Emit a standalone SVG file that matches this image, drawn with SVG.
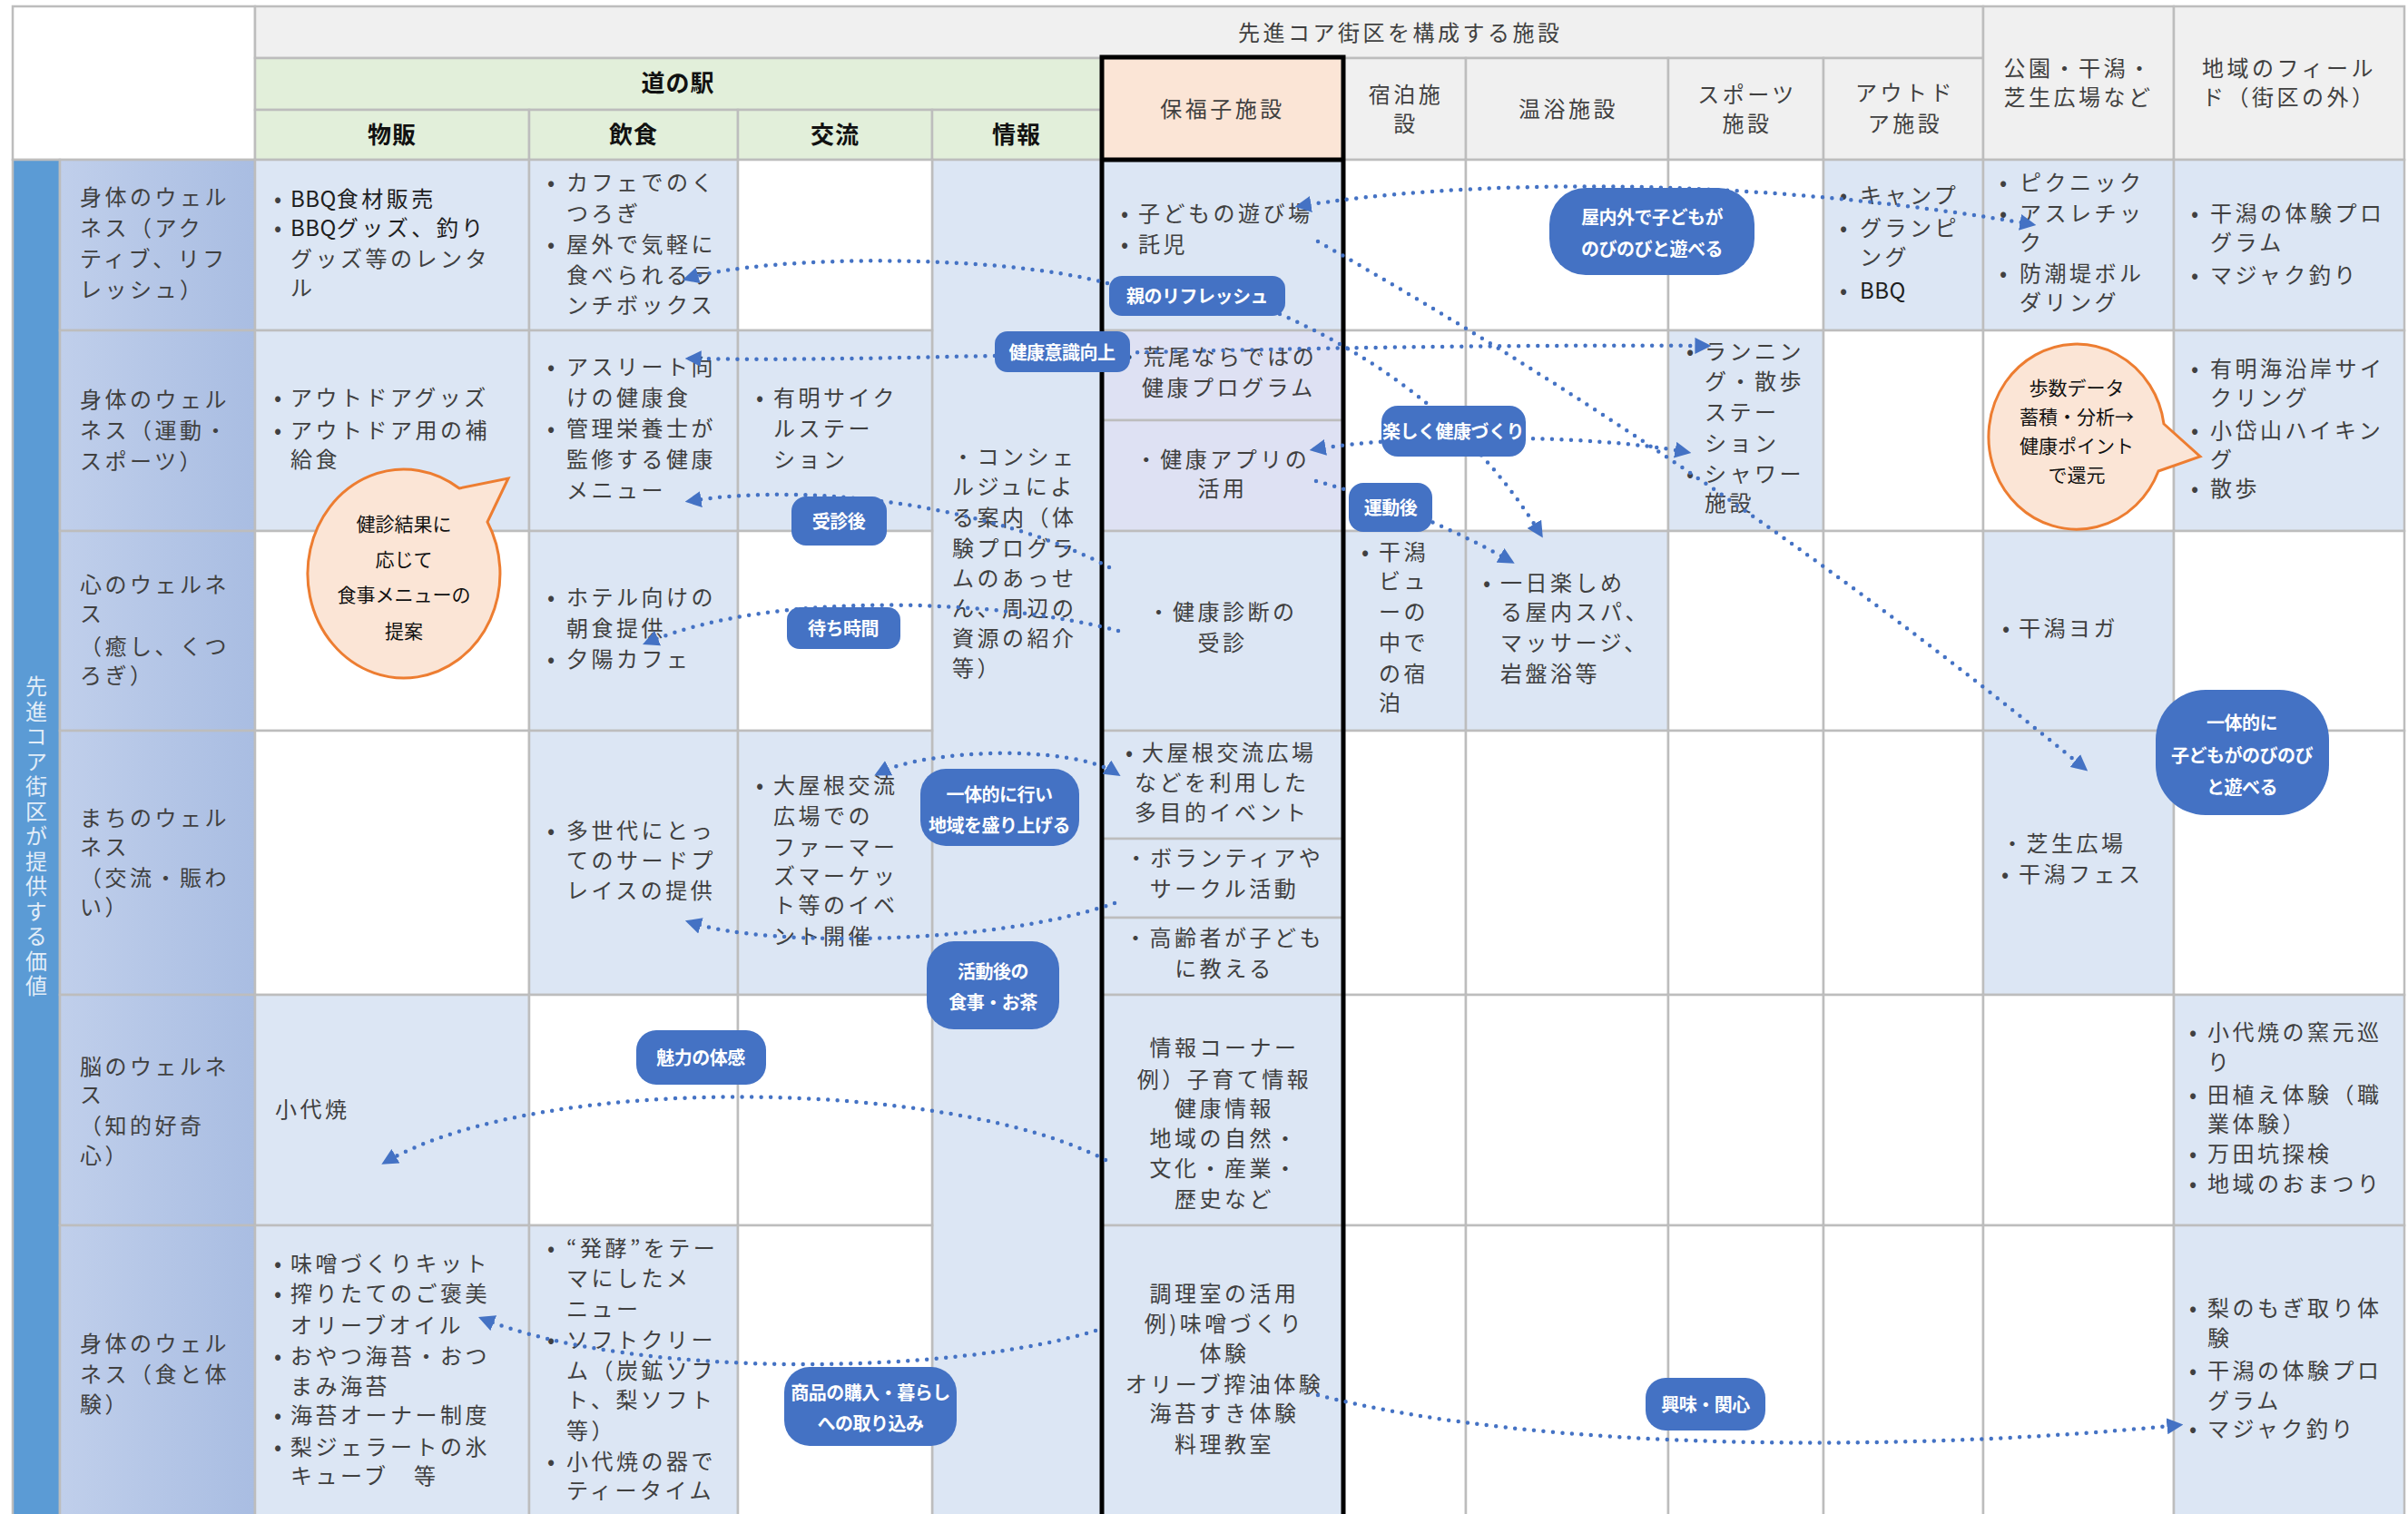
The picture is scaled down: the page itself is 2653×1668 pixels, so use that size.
<svg xmlns="http://www.w3.org/2000/svg" width="2653" height="1668" viewBox="0 0 2653 1668">
<defs>
<linearGradient id="lg" x1="0" y1="0" x2="1" y2="0"><stop offset="0" stop-color="#C0CFEB"/><stop offset="1" stop-color="#A9BDE2"/></linearGradient>
<marker id="ah" viewBox="0 0 10 10" refX="7" refY="5" markerWidth="18" markerHeight="18" markerUnits="userSpaceOnUse" orient="auto-start-reverse"><path d="M0,0 L10,5 L0,10 Z" fill="#4472C4"/></marker>
<style>
.w{fill:#FFFFFF;stroke:#BDBDBD;stroke-width:2.5}
.b{fill:#DCE6F4;stroke:#BDBDBD;stroke-width:2.5}
.b2{fill:#DEE1F3;stroke:#BDBDBD;stroke-width:2.5}
.lab{fill:url(#lg);stroke:#BDBDBD;stroke-width:2.5}
.g{fill:#F0F0F0;stroke:#BDBDBD;stroke-width:2.5}
.gr{fill:#E2EFDA;stroke:#BDBDBD;stroke-width:2.5}
.pk{fill:#FBE5D6;stroke:#BDBDBD;stroke-width:2.5}
text{font-family:"Noto Sans CJK JP","Noto Sans",sans-serif;dominant-baseline:central}
.t{font-size:24px;fill:#404040;letter-spacing:3.5px}
.dk{fill:#1E1E1E}
.nl{letter-spacing:0.5px}
.c{text-anchor:middle}
.bl{font-size:24px;fill:#404040;text-anchor:middle}
.hb{font-size:26px;font-weight:bold;fill:#111;text-anchor:middle;letter-spacing:1px}
.conn path{fill:none;stroke:#4472C4;stroke-width:4.5;stroke-linecap:round;stroke-dasharray:0 10.5}
.lb rect{fill:#4472C4}
.lb text{font-size:20px;font-weight:bold;fill:#FFFFFF;text-anchor:middle;letter-spacing:-0.5px}
.bub path{fill:#FBE5D6;stroke:#ED7D31;stroke-width:3}
.bub text{font-size:21px;fill:#111;text-anchor:middle}
</style>
</defs>
<rect x="0" y="0" width="2653" height="1668" fill="#FFFFFF"/>

<g id="grid">
<rect class="w" x="14" y="7" width="267" height="169"/>
<rect class="g" x="281" y="7" width="1904" height="57"/>
<rect class="gr" x="281" y="64" width="933" height="57"/>
<rect class="gr" x="281" y="121" width="302" height="55"/>
<rect class="gr" x="583" y="121" width="230" height="55"/>
<rect class="gr" x="813" y="121" width="214" height="55"/>
<rect class="gr" x="1027" y="121" width="187" height="55"/>
<rect class="pk" x="1214" y="64" width="266" height="112"/>
<rect class="g" x="1480" y="64" width="135" height="112"/>
<rect class="g" x="1615" y="64" width="223" height="112"/>
<rect class="g" x="1838" y="64" width="171" height="112"/>
<rect class="g" x="2009" y="64" width="176" height="112"/>
<rect class="g" x="2185" y="7" width="210" height="169"/>
<rect class="g" x="2395" y="7" width="254" height="169"/>
<rect x="14" y="176" width="52" height="1500" fill="#5B9BD5" stroke="#BDBDBD" stroke-width="2.5"/>
<rect class="lab" x="66" y="176" width="215" height="188"/>
<rect class="lab" x="66" y="364" width="215" height="221"/>
<rect class="lab" x="66" y="585" width="215" height="220"/>
<rect class="lab" x="66" y="805" width="215" height="291"/>
<rect class="lab" x="66" y="1096" width="215" height="254"/>
<rect class="lab" x="66" y="1350" width="215" height="330"/>
<rect class="b" x="1027" y="176" width="187" height="1504"/>
<!-- row 1 -->
<rect class="b" x="281" y="176" width="302" height="188"/>
<rect class="b" x="583" y="176" width="230" height="188"/>
<rect class="w" x="813" y="176" width="214" height="188"/>
<rect class="b" x="1214" y="176" width="266" height="188"/>
<rect class="w" x="1480" y="176" width="135" height="188"/>
<rect class="w" x="1615" y="176" width="223" height="188"/>
<rect class="w" x="1838" y="176" width="171" height="188"/>
<rect class="b" x="2009" y="176" width="176" height="188"/>
<rect class="b" x="2185" y="176" width="210" height="188"/>
<rect class="b" x="2395" y="176" width="254" height="188"/>
<!-- row 2 -->
<rect class="b" x="281" y="364" width="302" height="221"/>
<rect class="b" x="583" y="364" width="230" height="221"/>
<rect class="b" x="813" y="364" width="214" height="221"/>
<rect class="b2" x="1214" y="364" width="266" height="99"/>
<rect class="b2" x="1214" y="463" width="266" height="122"/>
<rect class="w" x="1480" y="364" width="135" height="221"/>
<rect class="w" x="1615" y="364" width="223" height="221"/>
<rect class="b" x="1838" y="364" width="171" height="221"/>
<rect class="w" x="2009" y="364" width="176" height="221"/>
<rect class="w" x="2185" y="364" width="210" height="221"/>
<rect class="b" x="2395" y="364" width="254" height="221"/>
<!-- row 3 -->
<rect class="w" x="281" y="585" width="302" height="220"/>
<rect class="b" x="583" y="585" width="230" height="220"/>
<rect class="w" x="813" y="585" width="214" height="220"/>
<rect class="b" x="1214" y="585" width="266" height="220"/>
<rect class="b" x="1480" y="585" width="135" height="220"/>
<rect class="b" x="1615" y="585" width="223" height="220"/>
<rect class="w" x="1838" y="585" width="171" height="220"/>
<rect class="w" x="2009" y="585" width="176" height="220"/>
<rect class="b" x="2185" y="585" width="210" height="220"/>
<rect class="w" x="2395" y="585" width="254" height="220"/>
<!-- row 4 -->
<rect class="w" x="281" y="805" width="302" height="291"/>
<rect class="b" x="583" y="805" width="230" height="291"/>
<rect class="b" x="813" y="805" width="214" height="291"/>
<rect class="b" x="1214" y="805" width="266" height="119"/>
<rect class="b" x="1214" y="924" width="266" height="87"/>
<rect class="b" x="1214" y="1011" width="266" height="85"/>
<rect class="w" x="1480" y="805" width="135" height="291"/>
<rect class="w" x="1615" y="805" width="223" height="291"/>
<rect class="w" x="1838" y="805" width="171" height="291"/>
<rect class="w" x="2009" y="805" width="176" height="291"/>
<rect class="b" x="2185" y="805" width="210" height="291"/>
<rect class="w" x="2395" y="805" width="254" height="291"/>
<!-- row 5 -->
<rect class="b" x="281" y="1096" width="302" height="254"/>
<rect class="w" x="583" y="1096" width="230" height="254"/>
<rect class="w" x="813" y="1096" width="214" height="254"/>
<rect class="b" x="1214" y="1096" width="266" height="254"/>
<rect class="w" x="1480" y="1096" width="135" height="254"/>
<rect class="w" x="1615" y="1096" width="223" height="254"/>
<rect class="w" x="1838" y="1096" width="171" height="254"/>
<rect class="w" x="2009" y="1096" width="176" height="254"/>
<rect class="w" x="2185" y="1096" width="210" height="254"/>
<rect class="b" x="2395" y="1096" width="254" height="254"/>
<!-- row 6 -->
<rect class="b" x="281" y="1350" width="302" height="330"/>
<rect class="b" x="583" y="1350" width="230" height="330"/>
<rect class="w" x="813" y="1350" width="214" height="330"/>
<rect class="b" x="1214" y="1350" width="266" height="330"/>
<rect class="w" x="1480" y="1350" width="135" height="330"/>
<rect class="w" x="1615" y="1350" width="223" height="330"/>
<rect class="w" x="1838" y="1350" width="171" height="330"/>
<rect class="w" x="2009" y="1350" width="176" height="330"/>
<rect class="w" x="2185" y="1350" width="210" height="330"/>
<rect class="b" x="2395" y="1350" width="254" height="330"/>
<rect x="1214" y="63" width="266" height="1620" fill="none" stroke="#000" stroke-width="5"/>
<line x1="1214" y1="176" x2="1480" y2="176" stroke="#000" stroke-width="5"/>
</g>

<g id="headers" transform="translate(0,-2)">
<text class="t" x="1364" y="36">先進コア街区を構成する施設</text>
<text class="hb" x="747" y="91">道の駅</text>
<text class="hb" x="432" y="148">物販</text>
<text class="hb" x="698" y="148">飲食</text>
<text class="hb" x="920" y="148">交流</text>
<text class="hb" x="1120" y="148">情報</text>
<text class="t c" x="1347" y="120">保福子施設</text>
<text class="t c" x="1549" y="104">宿泊施</text>
<text class="t c" x="1549" y="136">設</text>
<text class="t c" x="1728" y="120">温浴施設</text>
<text class="t c" x="1925" y="104">スポーツ</text>
<text class="t c" x="1925" y="136">施設</text>
<text class="t c" x="2099" y="102">アウトド</text>
<text class="t c" x="2099" y="136">ア施設</text>
<text class="t c" x="2290" y="75">公園・干潟・</text>
<text class="t c" x="2290" y="107">芝生広場など</text>
<text class="t" x="2426" y="75">地域のフィール</text>
<text class="t" x="2426" y="107">ド（街区の外）</text>
</g>
<text id="band-title" x="40" y="744" style="writing-mode:vertical-rl;font-size:24px;letter-spacing:3.5px;fill:#E2EDF8">先進コア街区が提供する価値</text>

<g id="row-labels" transform="translate(0,-1)">
<text class="t" x="88" y="216">身体のウェル</text><text class="t" x="88" y="250">ネス（アク</text><text class="t" x="88" y="284">ティブ、リフ</text><text class="t" x="88" y="318">レッシュ）</text>
<text class="t" x="88" y="439">身体のウェル</text><text class="t" x="88" y="473">ネス（運動・</text><text class="t" x="88" y="507">スポーツ）</text>
<text class="t" x="88" y="643">心のウェルネ</text><text class="t" x="88" y="675">ス</text><text class="t" x="88" y="711">（癒し、くつ</text><text class="t" x="88" y="743">ろぎ）</text>
<text class="t" x="88" y="900">まちのウェル</text><text class="t" x="88" y="932">ネス</text><text class="t" x="88" y="966">（交流・賑わ</text><text class="t" x="88" y="998">い）</text>
<text class="t" x="88" y="1174">脳のウェルネ</text><text class="t" x="88" y="1205">ス</text><text class="t" x="88" y="1239">（知的好奇</text><text class="t" x="88" y="1272">心）</text>
<text class="t" x="88" y="1479">身体のウェル</text><text class="t" x="88" y="1513">ネス（食と体</text><text class="t" x="88" y="1546">験）</text>
</g>

<g id="cells" transform="translate(0,-3)">
<g id="r1-bussan"><text class="bl dk" x="306" y="220">•</text><text class="bl dk" x="306" y="252">•</text>
<text class="t dk" x="320" y="220"><tspan class="nl">BBQ</tspan>食材販売</text><text class="t dk" x="320" y="252"><tspan class="nl">BBQ</tspan>グッズ、釣り</text><text class="t" x="320" y="286">グッズ等のレンタ</text><text class="t" x="320" y="318">ル</text></g>
<g id="r1-inshoku"><text class="bl" x="607" y="202">•</text><text class="bl" x="607" y="270">•</text>
<text class="t" x="624" y="202">カフェでのく</text><text class="t" x="624" y="236">つろぎ</text><text class="t" x="624" y="270">屋外で気軽に</text><text class="t" x="624" y="304">食べられるラ</text><text class="t" x="624" y="337">ンチボックス</text></g>
<g id="r1-hofuku"><text class="bl" x="1239" y="236">•</text><text class="bl" x="1239" y="270">•</text>
<text class="t" x="1254" y="236">子どもの遊び場</text><text class="t" x="1254" y="270">託児</text></g>
<g id="r1-outdoor"><text class="bl" x="2031" y="216">•</text><text class="bl" x="2031" y="252">•</text><text class="bl dk" x="2031" y="321">•</text>
<text class="t" x="2049" y="216">キャンプ</text><text class="t" x="2049" y="252">グランピ</text><text class="t" x="2049" y="284">ング</text><text class="t dk nl" x="2049" y="321">BBQ</text></g>
<g id="r1-park"><text class="bl" x="2207" y="202">•</text><text class="bl" x="2207" y="236">•</text><text class="bl" x="2207" y="302">•</text>
<text class="t" x="2225" y="202">ピクニック</text><text class="t" x="2225" y="236">アスレチッ</text><text class="t" x="2225" y="268">ク</text><text class="t" x="2225" y="302">防潮堤ボル</text><text class="t" x="2225" y="334">ダリング</text></g>
<g id="r1-field"><text class="bl" x="2418" y="236">•</text><text class="bl" x="2418" y="304">•</text>
<text class="t" x="2435" y="236">干潟の体験プロ</text><text class="t" x="2435" y="268">グラム</text><text class="t" x="2435" y="304">マジャク釣り</text></g>

<g id="r2-bussan"><text class="bl" x="306" y="439">•</text><text class="bl" x="306" y="475">•</text>
<text class="t" x="320" y="439">アウトドアグッズ</text><text class="t" x="320" y="475">アウトドア用の補</text><text class="t" x="320" y="507">給食</text></g>
<g id="r2-inshoku"><text class="bl" x="607" y="405">•</text><text class="bl" x="607" y="473">•</text>
<text class="t" x="624" y="405">アスリート向</text><text class="t" x="624" y="439">けの健康食</text><text class="t" x="624" y="473">管理栄養士が</text><text class="t" x="624" y="507">監修する健康</text><text class="t" x="624" y="541">メニュー</text></g>
<g id="r2-koryu"><text class="bl" x="837" y="439">•</text>
<text class="t" x="852" y="439">有明サイク</text><text class="t" x="852" y="473">ルステー</text><text class="t" x="852" y="507">ション</text></g>
<g id="joho"><text class="t" x="1049" y="504">・コンシェ</text><text class="t" x="1049" y="537">ルジュによ</text><text class="t" x="1049" y="571">る案内（体</text><text class="t" x="1049" y="605">験プログラ</text><text class="t" x="1049" y="638">ムのあっせ</text><text class="t" x="1049" y="671">ん、周辺の</text><text class="t" x="1049" y="704">資源の紹介</text><text class="t" x="1049" y="737">等）</text></g>
<g id="r2-hofuku-a"><text class="t" x="1232" y="394">・荒尾ならではの</text><text class="t" x="1258" y="428">健康プログラム</text></g>
<g id="r2-hofuku-b"><text class="t c" x="1347" y="507">・健康アプリの</text><text class="t c" x="1347" y="539">活用</text></g>
<g id="r2-sports"><text class="bl" x="1862" y="388">•</text><text class="bl" x="1862" y="523">•</text>
<text class="t" x="1878" y="388">ランニン</text><text class="t" x="1878" y="421">グ・散歩</text><text class="t" x="1878" y="455">ステー</text><text class="t" x="1878" y="489">ション</text><text class="t" x="1878" y="523">シャワー</text><text class="t" x="1878" y="555">施設</text></g>
<g id="r2-field"><text class="bl" x="2418" y="407">•</text><text class="bl" x="2418" y="475">•</text><text class="bl" x="2418" y="539">•</text>
<text class="t" x="2435" y="407">有明海沿岸サイ</text><text class="t" x="2435" y="439">クリング</text><text class="t" x="2435" y="475">小岱山ハイキン</text><text class="t" x="2435" y="507">グ</text><text class="t" x="2435" y="539">散歩</text></g>

<g id="r3-inshoku"><text class="bl" x="607" y="659">•</text><text class="bl" x="607" y="727">•</text>
<text class="t" x="624" y="659">ホテル向けの</text><text class="t" x="624" y="693">朝食提供</text><text class="t" x="624" y="727">夕陽カフェ</text></g>
<g id="r3-hofuku"><text class="t c" x="1347" y="675">・健康診断の</text><text class="t c" x="1347" y="709">受診</text></g>
<g id="r3-shukuhaku"><text class="bl" x="1504" y="609">•</text>
<text class="t" x="1519" y="609">干潟</text><text class="t" x="1519" y="641">ビュ</text><text class="t" x="1519" y="675">ーの</text><text class="t" x="1519" y="709">中で</text><text class="t" x="1519" y="743">の宿</text><text class="t" x="1519" y="775">泊</text></g>
<g id="r3-onyoku"><text class="bl" x="1638" y="643">•</text>
<text class="t" x="1653" y="643">一日楽しめ</text><text class="t" x="1653" y="675">る屋内スパ、</text><text class="t" x="1653" y="709">マッサージ、</text><text class="t" x="1653" y="743">岩盤浴等</text></g>
<g id="r3-park"><text class="bl" x="2210" y="693">•</text><text class="t" x="2224" y="693">干潟ヨガ</text></g>

<g id="r4-inshoku"><text class="bl" x="607" y="916">•</text>
<text class="t" x="624" y="916">多世代にとっ</text><text class="t" x="624" y="949">てのサードプ</text><text class="t" x="624" y="982">レイスの提供</text></g>
<g id="r4-koryu"><text class="bl" x="837" y="866">•</text>
<text class="t" x="852" y="866">大屋根交流</text><text class="t" x="852" y="900">広場での</text><text class="t" x="852" y="934">ファーマー</text><text class="t" x="852" y="966">ズマーケッ</text><text class="t" x="852" y="998">ト等のイベ</text><text class="t" x="852" y="1032">ント開催</text></g>
<g id="r4-hofuku-a"><text class="bl" x="1244" y="830">•</text>
<text class="t" x="1258" y="830">大屋根交流広場</text><text class="t" x="1250" y="863">などを利用した</text><text class="t" x="1250" y="896">多目的イベント</text></g>
<g id="r4-hofuku-b"><text class="t c" x="1349" y="946">・ボランティアや</text><text class="t c" x="1349" y="980">サークル活動</text></g>
<g id="r4-hofuku-c"><text class="t c" x="1349" y="1034">・高齢者が子ども</text><text class="t c" x="1349" y="1068">に教える</text></g>
<g id="r4-park"><text class="t" x="2205" y="930">・芝生広場</text><text class="bl" x="2209" y="964">•</text><text class="t" x="2224" y="964">干潟フェス</text></g>

<g id="r5-bussan"><text class="t" x="303" y="1223">小代焼</text></g>
<g id="r5-hofuku"><text class="t c" x="1349" y="1155">情報コーナー</text><text class="t c" x="1349" y="1190">例）子育て情報</text><text class="t c" x="1349" y="1222">健康情報</text><text class="t c" x="1349" y="1255">地域の自然・</text><text class="t c" x="1349" y="1288">文化・産業・</text><text class="t c" x="1349" y="1322">歴史など</text></g>
<g id="r5-field"><text class="bl" x="2416" y="1138">•</text><text class="bl" x="2416" y="1207">•</text><text class="bl" x="2416" y="1272">•</text><text class="bl" x="2416" y="1305">•</text>
<text class="t" x="2432" y="1138">小代焼の窯元巡</text><text class="t" x="2432" y="1171">り</text><text class="t" x="2432" y="1207">田植え体験（職</text><text class="t" x="2432" y="1239">業体験）</text><text class="t" x="2432" y="1272">万田坑探検</text><text class="t" x="2432" y="1305">地域のおまつり</text></g>

<g id="r6-bussan"><text class="bl" x="306" y="1393">•</text><text class="bl" x="306" y="1426">•</text><text class="bl" x="306" y="1495">•</text><text class="bl" x="306" y="1560">•</text><text class="bl" x="306" y="1595">•</text>
<text class="t" x="320" y="1393">味噌づくりキット</text><text class="t" x="320" y="1426">搾りたてのご褒美</text><text class="t" x="320" y="1461">オリーブオイル</text><text class="t" x="320" y="1495">おやつ海苔・おつ</text><text class="t" x="320" y="1528">まみ海苔</text><text class="t" x="320" y="1560">海苔オーナー制度</text><text class="t" x="320" y="1595">梨ジェラートの氷</text><text class="t" x="320" y="1627">キューブ　等</text></g>
<g id="r6-inshoku"><text class="bl" x="607" y="1376">•</text><text class="bl" x="607" y="1477">•</text><text class="bl" x="607" y="1611">•</text>
<text class="t" x="624" y="1376">“発酵”をテー</text><text class="t" x="624" y="1409">マにしたメ</text><text class="t" x="624" y="1443">ニュー</text><text class="t" x="624" y="1477">ソフトクリー</text><text class="t" x="624" y="1511">ム（炭鉱ソフ</text><text class="t" x="624" y="1543">ト、梨ソフト</text><text class="t" x="624" y="1577">等）</text><text class="t" x="624" y="1611">小代焼の器で</text><text class="t" x="624" y="1643">ティータイム</text></g>
<g id="r6-hofuku"><text class="t c" x="1349" y="1426">調理室の活用</text><text class="t c" x="1349" y="1459">例)味噌づくり</text><text class="t c" x="1349" y="1492">体験</text><text class="t c" x="1349" y="1526">オリーブ搾油体験</text><text class="t c" x="1349" y="1558">海苔すき体験</text><text class="t c" x="1349" y="1592">料理教室</text></g>
<g id="r6-field"><text class="bl" x="2416" y="1442">•</text><text class="bl" x="2416" y="1511">•</text><text class="bl" x="2416" y="1575">•</text>
<text class="t" x="2432" y="1442">梨のもぎ取り体</text><text class="t" x="2432" y="1475">験</text><text class="t" x="2432" y="1511">干潟の体験プロ</text><text class="t" x="2432" y="1544">グラム</text><text class="t" x="2432" y="1575">マジャク釣り</text></g>
</g>

<g id="bubble-kenshin" class="bub">
<path d="M506,538 L560,527 L537,575 A106 115 0 1 1 506,538 Z"/>
<text x="445" y="576">健診結果に</text><text x="445" y="615">応じて</text><text x="445" y="654">食事メニューの</text><text x="445" y="694">提案</text>
</g>
<g id="bubble-hosu" class="bub">
<path d="M2384,467 L2424,503 L2378,519 A97 102 0 1 1 2384,467 Z"/>
<text x="2288" y="426">歩数データ</text><text x="2288" y="458">蓄積・分析→</text><text x="2288" y="490">健康ポイント</text><text x="2288" y="522">で還元</text>
</g>

<g id="connectors" class="conn">
<path d="M1432,227 C1600,200 1900,190 2238,247" marker-start="url(#ah)" marker-end="url(#ah)"/>
<path d="M1220,312 C1100,280 850,280 757,307" marker-end="url(#ah)"/>
<path d="M1410,346 Q1600,430 1697,588" marker-end="url(#ah)"/>
<path d="M1452,266 Q1900,520 2296,846" marker-end="url(#ah)"/>
<path d="M760,395 C1000,400 1400,378 1880,381" marker-start="url(#ah)" marker-end="url(#ah)"/>
<path d="M1222,625 C1100,560 900,530 760,552" marker-end="url(#ah)"/>
<path d="M1232,695 C1100,660 850,650 713,708" marker-end="url(#ah)"/>
<path d="M968,852 C1020,825 1180,820 1230,852" marker-start="url(#ah)" marker-end="url(#ah)"/>
<path d="M1228,995 C1100,1040 850,1045 760,1016" marker-end="url(#ah)"/>
<path d="M1218,1278 C1050,1190 600,1180 425,1280" marker-end="url(#ah)"/>
<path d="M1207,1466 C1050,1515 700,1520 532,1453" marker-end="url(#ah)"/>
<path d="M1452,1537 C1700,1600 2100,1600 2400,1570" marker-end="url(#ah)"/>
<path d="M1448,495 C1550,478 1750,478 1858,498" marker-start="url(#ah)" marker-end="url(#ah)"/>
<path d="M1450,530 Q1560,560 1664,618" marker-end="url(#ah)"/>
</g>

<g id="lb-okunaigai" class="lb"><rect x="1707" y="207" width="226" height="96" rx="40"/><text x="1820" y="238">屋内外で子どもが</text><text x="1820" y="273">のびのびと遊べる</text></g>
<g id="lb-oya" class="lb"><rect x="1222" y="304" width="194" height="44" rx="14"/><text x="1319" y="325">親のリフレッシュ</text></g>
<g id="lb-kenko-ishiki" class="lb"><rect x="1096" y="365" width="149" height="45" rx="14"/><text x="1170" y="387">健康意識向上</text></g>
<g id="lb-jushingo" class="lb"><rect x="872" y="547" width="105" height="54" rx="16"/><text x="924" y="573">受診後</text></g>
<g id="lb-machi" class="lb"><rect x="867" y="669" width="125" height="46" rx="14"/><text x="929" y="691">待ち時間</text></g>
<g id="lb-tanoshiku" class="lb"><rect x="1522" y="447" width="159" height="56" rx="18"/><text x="1601" y="474">楽しく健康づくり</text></g>
<g id="lb-undogo" class="lb"><rect x="1486" y="532" width="92" height="54" rx="16"/><text x="1532" y="558">運動後</text></g>
<g id="lb-ittai1" class="lb"><rect x="1014" y="847" width="175" height="85" rx="28"/><text x="1101" y="874">一体的に行い</text><text x="1101" y="908">地域を盛り上げる</text></g>
<g id="lb-katsudogo" class="lb"><rect x="1021" y="1037" width="146" height="97" rx="30"/><text x="1094" y="1069">活動後の</text><text x="1094" y="1103">食事・お茶</text></g>
<g id="lb-miryoku" class="lb"><rect x="701" y="1135" width="143" height="60" rx="22"/><text x="772" y="1164">魅力の体感</text></g>
<g id="lb-shohin" class="lb"><rect x="864" y="1506" width="190" height="87" rx="28"/><text x="959" y="1533">商品の購入・暮らし</text><text x="959" y="1567">への取り込み</text></g>
<g id="lb-kyomi" class="lb"><rect x="1813" y="1518" width="132" height="58" rx="22"/><text x="1879" y="1546">興味・関心</text></g>
<g id="lb-ittai2" class="lb"><rect x="2375" y="760" width="191" height="138" rx="55"/><text x="2470" y="795">一体的に</text><text x="2470" y="831">子どもがのびのび</text><text x="2470" y="866">と遊べる</text></g>
</svg>
